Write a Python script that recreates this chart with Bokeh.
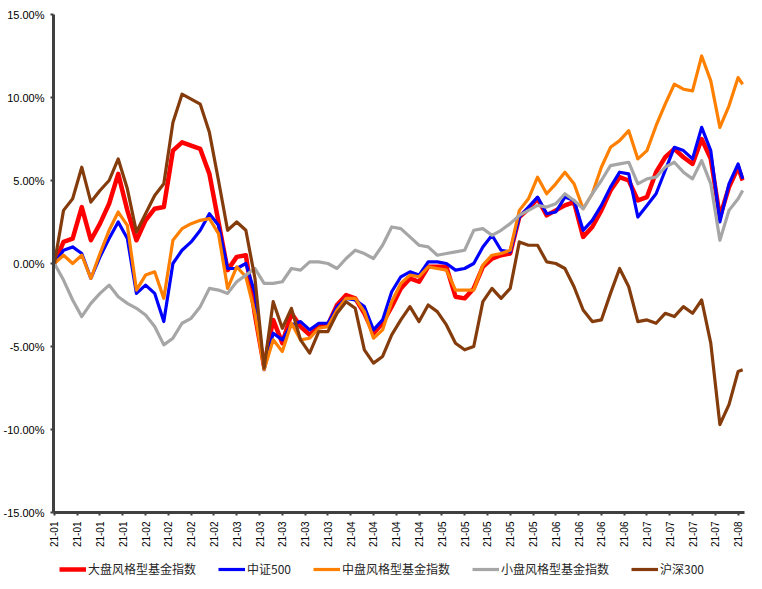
from bokeh.plotting import figure
from bokeh.layouts import column
from bokeh.models import Range1d, FixedTicker, Legend, LegendItem
from bokeh.embed import file_html
from bokeh.resources import INLINE

# trading-day index (every second day) and axis labels
day = list(range(0, 151, 2)) + [151]
tick_days = list(range(0, 151, 5))
tick_labels = (["21-01"] * 4 + ["21-02"] * 4 + ["21-03"] * 5 + ["21-04"] * 4 +
               ["21-05"] * 5 + ["21-06"] * 4 + ["21-07"] * 4 + ["21-08"])

names = ["大盘风格型基金指数", "中证500", "中盘风格型基金指数", "小盘风格型基金指数", "沪深300"]

large_cap = [0, 1.3, 1.5, 3.4, 1.4, 2.4, 3.6, 5.4, 3.2, 1.4,
             2.6, 3.3, 3.4, 6.8, 7.3, 7.1, 6.9, 5.4, 2.5, -0.4,
             0.4, 0.5, -3.1, -6.2, -3.4, -4.8, -3.0, -3.8, -4.3, -3.8,
             -3.7, -2.5, -1.9, -2.1, -3.0, -4.2, -3.6, -2.6, -1.5, -0.9,
             -1.1, -0.2, -0.2, -0.2, -2.0, -2.1, -1.5, -0.2, 0.3, 0.5,
             0.6, 2.8, 3.3, 3.9, 2.9, 3.2, 3.5, 3.7, 1.6, 2.2,
             3.2, 4.4, 5.2, 5.0, 3.8, 4.0, 5.5, 6.4, 6.9, 6.4,
             6.0, 7.5, 6.3, 2.8, 4.6, 5.8, 5.0]

csi500 = [0, 0.8, 1.0, 0.6, -0.9, 0.4, 1.5, 2.5, 1.5, -1.8,
          -1.3, -1.8, -3.5, 0.0, 0.8, 1.3, 2.0, 3.0, 2.3, -0.3,
          -0.3, 0.0, -1.8, -6.4, -4.2, -4.6, -3.7, -3.5, -4.0, -3.6,
          -3.6, -2.6, -2.1, -2.2, -2.6, -4.0, -3.4, -1.7, -0.8, -0.5,
          -0.7, 0.1, 0.1, 0.0, -0.4, -0.3, 0.0, 1.0, 1.7, 0.8,
          0.7, 2.8, 3.4, 4.0, 3.0, 3.1, 4.0, 3.8, 2.0, 2.6,
          3.5, 4.6, 5.5, 5.4, 2.8, 3.5, 4.2, 5.6, 7.0, 6.8,
          6.3, 8.2, 6.8, 2.5, 4.8, 6.0, 5.1]

mid_cap = [0, 0.5, 0.0, 0.5, -0.9, 0.6, 2.0, 3.1, 2.3, -1.6,
           -0.7, -0.5, -2.1, 1.4, 2.1, 2.4, 2.6, 2.7, 1.8, -1.5,
           -0.2, -0.8, -3.0, -6.4, -4.6, -5.3, -3.6, -4.6, -4.5, -3.9,
           -3.8, -2.8, -2.1, -2.1, -2.9, -4.5, -4.0, -2.3, -1.2, -0.7,
           -0.8, -0.2, -0.3, -0.4, -1.6, -1.6, -1.6, -0.1, 0.5, 0.6,
           0.8, 3.2, 3.9, 5.2, 4.2, 4.8, 5.5, 4.8, 3.3, 4.2,
           5.8, 7.0, 7.4, 8.0, 6.3, 6.8, 8.3, 9.6, 10.8, 10.5,
           10.4, 12.5, 11.0, 8.2, 9.5, 11.2, 10.8]

small_cap = [0, -1.0, -2.2, -3.2, -2.4, -1.8, -1.3, -2.0, -2.4, -2.7,
             -3.1, -3.8, -4.9, -4.5, -3.6, -3.3, -2.6, -1.5, -1.6, -1.8,
             -1.1, -0.7, -0.3, -1.2, -1.2, -1.1, -0.3, -0.4, 0.1, 0.1,
             0.0, -0.3, 0.3, 0.8, 0.6, 0.3, 1.1, 2.2, 2.1, 1.6,
             1.1, 1.0, 0.5, 0.6, 0.7, 0.8, 2.0, 2.1, 1.7, 2.0,
             2.4, 2.9, 3.2, 3.5, 3.4, 3.6, 4.2, 3.8, 3.3, 4.2,
             5.0, 5.9, 6.0, 6.1, 4.8, 5.1, 5.2, 5.8, 6.1, 5.5,
             5.1, 6.2, 4.8, 1.4, 3.2, 3.9, 4.4]

hs300 = [0, 3.2, 3.9, 5.8, 3.7, 4.4, 5.0, 6.3, 4.5, 1.9,
         3.0, 4.1, 4.8, 8.5, 10.2, 9.9, 9.6, 7.9, 5.0, 2.0,
         2.5, 2.0, -0.9, -6.3, -2.3, -3.9, -2.7, -4.6, -5.4, -4.1,
         -4.1, -3.0, -2.3, -2.7, -5.2, -6.0, -5.6, -4.3, -3.4, -2.6,
         -3.5, -2.5, -2.9, -3.7, -4.8, -5.2, -5.0, -2.3, -1.5, -2.1,
         -1.5, 1.3, 1.1, 1.1, 0.1, 0.0, -0.3, -1.4, -2.8, -3.5,
         -3.4, -1.8, -0.3, -1.4, -3.5, -3.4, -3.6, -3.0, -3.2, -2.6,
         -3.0, -2.2, -4.8, -9.7, -8.5, -6.5, -6.4]

y_ticks = [-15, -10, -5, 0, 5, 10, 15]
y_labels = ["-15.00%", "-10.00%", "-5.00%", "0.00%", "5.00%", "10.00%", "15.00%"]

series = [large_cap, csi500, mid_cap, small_cap, hs300]
colors = ["#FF0000", "#0000FF", "#FF8000", "#A6A6A6", "#843C0C"]
widths = [4.5, 3.2, 3.2, 3.2, 3.2]

p = figure(width=746, height=550,
           x_range=Range1d(-0.2, 151.4), y_range=Range1d(-15, 15),
           output_backend="svg", toolbar_location=None,
           min_border_left=53, min_border_top=14, min_border_right=2,
           min_border_bottom=36)
p.xgrid.visible = False
p.ygrid.visible = False
p.outline_line_color = None

for vals, c, w in zip(series, colors, widths):
    p.line(day, vals, line_color=c, line_width=w, line_join="round")

ax = p.xaxis[0]
ax.ticker = FixedTicker(ticks=tick_days)
ax.major_label_overrides = {d: l for d, l in zip(tick_days, tick_labels)}
ax.major_label_orientation = 3.14159265 / 2
ax.axis_line_color = "#404040"
ax.axis_line_width = 3
ax.major_tick_line_color = "#404040"
ax.major_tick_line_width = 2
ax.major_tick_out = 3
ax.major_tick_in = 0
ax.minor_tick_line_color = None
ax.major_label_text_font = "Liberation Sans"
ax.major_label_text_font_size = "10px"
ax.major_label_text_color = "#000000"
ax.major_label_standoff = 6

ay = p.yaxis[0]
ay.ticker = FixedTicker(ticks=y_ticks)
ay.major_label_overrides = {t: l for t, l in zip(y_ticks, y_labels)}
ay.axis_line_color = "#404040"
ay.axis_line_width = 3
ay.major_tick_line_color = "#404040"
ay.major_tick_line_width = 2
ay.major_tick_out = 3
ay.major_tick_in = 0
ay.minor_tick_line_color = None
ay.major_label_text_font = "Liberation Sans"
ay.major_label_text_font_size = "11px"
ay.major_label_text_color = "#000000"
ay.major_label_standoff = 6

# legend strip under the chart
lg = figure(width=746, height=30, output_backend="svg", toolbar_location=None,
            x_axis_type=None, y_axis_type=None,
            x_range=Range1d(0, 1), y_range=Range1d(0, 1),
            min_border_left=0, min_border_right=0, min_border_top=0,
            min_border_bottom=0)
lg.xgrid.visible = False
lg.ygrid.visible = False
lg.outline_line_color = None
items = []
for name, c, w in zip(names, colors, widths):
    r = lg.line([-5, -4], [-5, -5], line_color=c, line_width=w)
    items.append(LegendItem(label=name, renderers=[r]))
legend = Legend(items=items, orientation="horizontal", location=(6, 3),
                border_line_color=None, background_fill_alpha=0,
                glyph_width=27, glyph_height=12, label_standoff=2,
                spacing=22, padding=2, margin=0,
                label_text_font="Noto Sans CJK SC",
                label_text_font_size="12px", label_text_color="#262626")
lg.add_layout(legend, "center")

layout = column(p, lg, spacing=0)
open("out.html", "w").write(file_html(layout, INLINE))
